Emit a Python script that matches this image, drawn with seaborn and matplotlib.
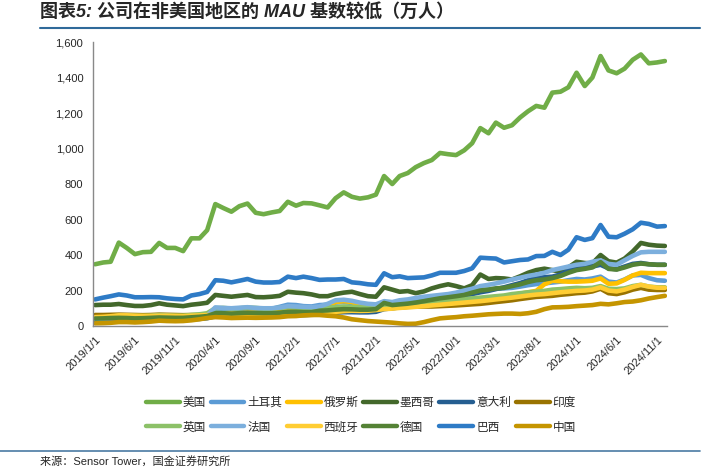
import pandas as pd
import seaborn as sns
import matplotlib.pyplot as plt
from matplotlib.lines import Line2D

# monthly MAU (万人), 2019/1 .. 2024/12
dates = pd.date_range('2019-01-01', periods=72, freq='MS')

us = [348, 358, 362, 470, 440, 405, 416, 418, 468, 440, 440, 422,
      494, 494, 540, 687, 665, 644, 675, 690, 638, 630, 640, 648,
      700, 678, 693, 691, 680, 668, 720, 753, 728, 718, 725, 740,
      845, 800, 845, 862, 895, 918, 935, 975, 968, 963, 990, 1030,
      1115, 1086, 1146, 1117, 1131, 1175, 1210, 1240, 1230, 1315, 1320, 1345,
      1427, 1352, 1400, 1521, 1440, 1424, 1450, 1500, 1530, 1480, 1485, 1493]
turkey = [35, 37, 38, 40, 40, 38, 38, 40, 42, 42, 41, 42, 45, 48, 52,
          95, 98, 96, 95, 100, 98, 95, 97, 108, 120, 118, 112, 110,
          118, 120, 132, 135, 130, 125, 120, 118,
          135, 130, 138, 142, 150, 155, 158, 162, 165, 170, 178, 190,
          200, 205, 210, 212, 215, 222, 230, 236, 240, 245, 250, 258,
          265, 262, 268, 278, 250, 245, 262, 285, 288, 270, 258, 255]
russia = [55, 55, 56, 58, 57, 55, 55, 56, 58, 57, 56, 56, 58, 60, 63,
          68, 70, 70, 72, 75, 74, 72, 74, 78, 82, 84, 85, 88,
          95, 115, 135, 140, 135, 112, 102, 96,
          105, 102, 104, 108, 112, 115, 120, 125, 130, 135, 140, 145,
          150, 156, 162, 168, 175, 182, 190, 198, 235, 255, 252, 250,
          250, 252, 255, 268, 238, 240, 260, 285, 300, 298, 298, 298]
mexico = [118, 120, 120, 124, 118, 113, 113, 118, 128, 120, 116, 112,
          120, 125, 131, 175, 170, 165, 170, 175, 163, 162, 165, 170,
          193, 188, 185, 178, 168, 168, 180, 188, 193, 180, 168, 165,
          218, 205, 193, 197, 185, 195, 212, 225, 235, 225, 212, 230,
          290, 265, 270, 268, 262, 280, 300, 315, 323, 315, 306, 330,
          362, 355, 353, 400, 365, 357, 380, 420, 468, 458, 453, 451]
italy = [30, 31, 32, 33, 33, 32, 32, 33, 35, 34, 34, 35, 37, 40, 44,
         55, 56, 55, 56, 58, 57, 56, 57, 60, 62, 62, 62, 64,
         70, 72, 75, 78, 78, 77, 77, 80,
         95, 100, 105, 112, 120, 128, 136, 145, 152, 160, 168, 180,
         190, 198, 208, 218, 230, 242, 258, 270, 275, 278, 290, 312,
         330, 332, 335, 345, 325, 320, 335, 350, 355, 348, 345, 345]
india = [62, 62, 63, 64, 63, 62, 61, 62, 64, 63, 62, 61, 62, 62, 63,
         60, 60, 58, 58, 60, 60, 58, 58, 60, 62, 62, 62, 63,
         65, 70, 78, 85, 88, 88, 90, 95,
         100, 102, 105, 108, 109, 110, 110, 112, 114, 116, 119, 122,
         125, 130, 135, 140, 145, 152, 158, 164, 167, 170, 176, 180,
         185, 188, 195, 210, 185, 180, 190, 205, 215, 205, 203, 203]
uk = [45, 48, 52, 58, 60, 58, 56, 58, 62, 60, 58, 58, 62, 66, 72,
      100, 102, 98, 100, 104, 102, 98, 98, 102, 106, 104, 102, 102,
      105, 104, 106, 110, 108, 105, 104, 108,
      120, 118, 122, 126, 130, 133, 136, 140, 144, 148, 152, 156,
      160, 164, 168, 172, 180, 185, 190, 193, 198, 205, 208, 212,
      215, 213, 215, 225, 210, 208, 212, 225, 232, 222, 218, 218]
france = [40, 42, 44, 45, 44, 43, 44, 45, 47, 46, 46, 47, 50, 52, 58,
          105, 102, 100, 103, 106, 102, 100, 100, 104, 112, 110, 108, 106,
          110, 125, 145, 148, 142, 132, 125, 122,
          140, 135, 145, 150, 158, 165, 170, 175, 180, 188, 200, 210,
          225, 232, 240, 250, 262, 272, 282, 290, 300, 315, 325, 335,
          345, 350, 362, 370, 350, 345, 370, 395, 415, 418, 418, 418]
spain = [50, 52, 55, 60, 60, 58, 57, 57, 58, 58, 57, 56, 58, 60, 62,
         62, 60, 58, 60, 62, 62, 60, 62, 65, 68, 68, 68, 68,
         70, 74, 80, 84, 86, 85, 86, 90,
         95, 98, 102, 105, 108, 112, 116, 120, 124, 128, 132, 136,
         140, 145, 150, 155, 160, 166, 172, 177, 180, 185, 190, 194,
         198, 200, 205, 218, 200, 195, 205, 220, 232, 222, 216, 215]
germany = [42, 43, 45, 46, 45, 43, 44, 46, 48, 47, 46, 46, 49, 52, 56,
           72, 72, 70, 72, 75, 73, 72, 72, 75, 80, 80, 78, 78,
           86, 88, 92, 95, 94, 92, 92, 95,
           130, 118, 122, 126, 132, 140, 148, 156, 162, 168, 175, 188,
           200, 205, 212, 215, 225, 235, 248, 258, 262, 270, 282, 300,
           315, 322, 330, 360, 322, 318, 330, 345, 352, 348, 345, 345]
brazil = [150, 160, 168, 178, 172, 162, 162, 163, 162, 156, 152, 150,
          172, 180, 192, 258, 255, 246, 255, 265, 250, 245, 245, 248,
          278, 270, 278, 270, 260, 262, 262, 265, 246, 242, 235, 232,
          297, 275, 280, 270, 272, 274, 285, 300, 300, 300, 310, 325,
          385, 382, 380, 358, 365, 372, 375, 394, 395, 418, 400, 430,
          500, 485, 495, 569, 503, 500, 520, 545, 582, 575, 560, 563]
china = [15, 16, 18, 22, 22, 20, 22, 25, 30, 28, 27, 28,
         32, 38, 45, 50, 48, 45, 46, 47, 46, 47, 48, 50,
         55, 56, 60, 62, 62, 58, 55, 48, 38, 33, 28, 25,
         22, 19, 15, 12, 13, 22, 33, 43, 47, 50, 55, 58,
         62, 66, 68, 70, 70, 68, 72, 80, 95, 105, 106, 108,
         112, 115, 118, 125, 122, 128, 135, 138, 145, 155, 163, 170]

names = ['美国', '土耳其', '俄罗斯', '墨西哥', '意大利', '印度',
         '英国', '法国', '西班牙', '德国', '巴西', '中国']
values = [us, turkey, russia, mexico, italy, india,
          uk, france, spain, germany, brazil, china]
colors = ['#70AD47', '#5B9BD5', '#FFC000', '#43682B', '#255E91', '#997300',
          '#8CC168', '#7CAFDD', '#FFCD33', '#548235', '#2E7BC6', '#C59500']
tick_labels = ['2019/1/1', '2019/6/1', '2019/11/1', '2020/4/1', '2020/9/1',
               '2021/2/1', '2021/7/1', '2021/12/1', '2022/5/1', '2022/10/1',
               '2023/3/1', '2023/8/1', '2024/1/1', '2024/6/1', '2024/11/1']

df = pd.DataFrame({'date': dates})
for n, v in zip(names, values):
    df[n] = v
long_df = df.melt(id_vars='date', var_name='country', value_name='mau')

sns.set_style('white')
plt.rcParams['font.family'] = ['Liberation Sans', 'Noto Sans CJK SC', 'DejaVu Sans']

fig = plt.figure(figsize=(7.13, 4.67), dpi=100)
ax = fig.add_axes([0.1304, 0.3019, 0.8051, 0.6081])

palette = dict(zip(names, colors))
sns.lineplot(data=long_df, x='date', y='mau', hue='country', hue_order=names,
             palette=palette, linewidth=3.3, legend=False, ax=ax)
for ln in ax.lines:
    ln.set_solid_capstyle('round')
    ln.set_solid_joinstyle('round')

ax.set_ylim(0, 1600)
ax.set_yticks(range(0, 1601, 200))
ax.yaxis.set_major_formatter(plt.FuncFormatter(lambda v, p: f'{v:,.0f}'))
ax.set_xlim(dates[0] - pd.Timedelta(days=8), dates[-1] + pd.Timedelta(days=8))
tick_dates = [pd.Timestamp(t.replace('/', '-')) for t in tick_labels]
ax.set_xticks(tick_dates)
ax.set_xticklabels(tick_labels, rotation=45, ha='right', va='top',
                   rotation_mode='anchor')
ax.set_xlabel('')
ax.set_ylabel('')
ax.tick_params(axis='y', labelsize=8, length=3, color='#898989', pad=4)
ax.tick_params(axis='x', labelsize=8, length=0, pad=6)
for s in ['top', 'right']:
    ax.spines[s].set_visible(False)
for s in ['left', 'bottom']:
    ax.spines[s].set_color('#898989')
    ax.spines[s].set_linewidth(1.0)

# legend: two rows, Excel-style row order
order = [0, 6, 1, 7, 2, 8, 3, 9, 4, 10, 5, 11]
handles = [Line2D([], [], color=colors[i], lw=3.2) for i in order]
labels = [names[i] for i in order]
fig.legend(handles, labels, loc='center', bbox_to_anchor=(0.506, 0.111), ncol=6,
           frameon=False, fontsize=8.4, handlelength=2.9, handletextpad=0.25,
           columnspacing=0.4, labelspacing=1.1)

fig.text(0.056, 0.974, '图表5: 公司在非美国地区的 MAU 基数较低（万人）',
         fontsize=13, fontweight='bold', fontstyle='italic', va='center', ha='left')
fig.add_artist(Line2D([0.056, 0.982], [0.939, 0.939], transform=fig.transFigure,
                      color='#2F6A9A', lw=1.5))
fig.add_artist(Line2D([0.0, 0.982], [0.034, 0.034], transform=fig.transFigure,
                      color='#4A7AA3', lw=1.2))
fig.text(0.056, 0.012, '来源：Sensor Tower，国金证券研究所', fontsize=8,
         va='center', ha='left')

fig.savefig('out.png', dpi=100)
